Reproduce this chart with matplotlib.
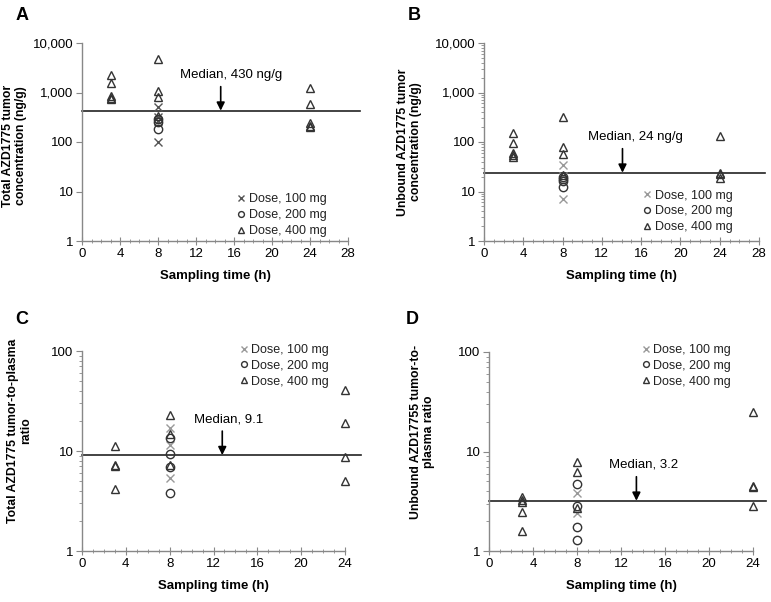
import matplotlib
matplotlib.use("Agg")
import matplotlib.pyplot as plt
import matplotlib.ticker as mticker
import numpy as np

plt.rcParams['font.family'] = ['Liberation Sans', 'DejaVu Sans']

# ---------------- data ----------------
# Panel A: total tumor concentration (ng/g)
a_t100 = [8, 8, 8, 8]
a_v100 = [500, 320, 270, 100]
a_t200 = [8, 8, 8]
a_v200 = [290, 255, 180]
a_t400 = [3, 3, 3, 3, 3, 8, 8, 8, 8, 24, 24, 24, 24, 24]
a_v400 = [2250, 1580, 840, 790, 750, 4700, 1090, 800, 330, 1250, 580, 240, 215, 200]
a_median = 430

# Panel B: unbound tumor concentration (ng/g)
b_t100 = [8, 8, 8]
b_v100 = [35, 21, 7]
b_t200 = [8, 8, 8, 8]
b_v200 = [20, 18, 16.5, 12.5]
b_t400 = [3, 3, 3, 3, 3, 8, 8, 8, 8, 24, 24, 24, 24]
b_v400 = [155, 94, 61, 54, 50, 320, 78, 56, 22, 130, 24, 22.5, 19]
b_median = 24

# Panel C: total tumor-to-plasma ratio
c_t100 = [8, 8, 8]
c_v100 = [17.1, 11.5, 5.4]
c_t200 = [8, 8, 8, 8]
c_v200 = [13.5, 9.3, 6.9, 3.8]
c_t400 = [3, 3, 3, 3, 8, 8, 8, 24, 24, 24, 24]
c_v400 = [11.3, 7.2, 7.0, 4.2, 22.7, 14.8, 7.2, 40.7, 18.9, 8.8, 5.0]
c_median = 9.1

# Panel D: unbound tumor-to-plasma ratio
d_t100 = [8, 8]
d_v100 = [3.8, 2.4]
d_t200 = [8, 8, 8, 8]
d_v200 = [4.7, 2.85, 1.74, 1.29]
d_t400 = [3, 3, 3, 3, 3, 8, 8, 8, 24, 24, 24, 24]
d_v400 = [3.45, 3.25, 3.1, 2.45, 1.6, 7.8, 6.2, 2.7, 25, 4.5, 4.4, 2.85]
d_median = 3.2

labels = ['Dose, 100 mg', 'Dose, 200 mg', 'Dose, 400 mg']

W, H = 771, 602
fig = plt.figure(figsize=(W / 100, H / 100), dpi=100)


def frac(l, t, r, b):
    return [l / W, 1 - b / H, (r - l) / W, (b - t) / H]


axA = fig.add_axes(frac(82, 43, 348, 241))
axB = fig.add_axes(frac(484, 43, 759, 241))
axC = fig.add_axes(frac(82, 351, 345, 551))
axD = fig.add_axes(frac(489, 352, 753, 551))

spine_col = '#888888'
mk_col = '#333333'
TICK_FS = 9.5


def style(ax, xmax, ymin, ymax, ylab, label_off, label_y, minor_y):
    ax.set_yscale('log')
    ax.set_xlim(0, xmax)
    ax.set_ylim(ymin, ymax)
    for s in ['top', 'right']:
        ax.spines[s].set_visible(False)
    for s in ['left', 'bottom']:
        ax.spines[s].set_color(spine_col)
        ax.spines[s].set_linewidth(1.0)
    ax.xaxis.set_major_locator(mticker.MultipleLocator(4))
    ax.xaxis.set_minor_locator(mticker.MultipleLocator(1))
    ax.tick_params(axis='x', which='major', direction='inout', length=6, color=spine_col,
                   labelsize=TICK_FS, pad=2)
    ax.tick_params(axis='x', which='minor', direction='inout', length=3, color=spine_col)
    ax.yaxis.set_major_locator(mticker.LogLocator(base=10, numticks=10))
    if minor_y:
        ax.yaxis.set_minor_locator(mticker.LogLocator(base=10, subs=np.arange(2, 10), numticks=10))
    else:
        ax.yaxis.set_minor_locator(mticker.NullLocator())
    ax.yaxis.set_minor_formatter(mticker.NullFormatter())
    ax.yaxis.set_major_formatter(mticker.FuncFormatter(lambda v, p: f'{int(round(v)):,}'))
    ax.tick_params(axis='y', which='major', direction='out', length=4, color=spine_col,
                   labelsize=TICK_FS, pad=2)
    ax.tick_params(axis='y', which='minor', direction='out', length=2, color=spine_col)
    ax.set_xlabel('Sampling time (h)', fontsize=9.5, fontweight='bold', labelpad=7)
    ax.set_ylabel(ylab, fontsize=8.8, fontweight='bold', linespacing=1.1)
    bb = ax.get_position()
    ax.yaxis.set_label_coords(-label_off / (bb.width * W), label_y)


def plot_points(ax, t1, v1, t2, v2, t4, v4, xcol):
    ax.plot(t1, v1, ls='none', marker='x', ms=6, mew=1.0, color=xcol, label=labels[0], clip_on=False)
    ax.plot(t2, v2, ls='none', marker='o', ms=6, mew=1.0, mfc='none', mec=mk_col, label=labels[1], clip_on=False)
    ax.plot(t4, v4, ls='none', marker='^', ms=6, mew=1.0, mfc='none', mec=mk_col, label=labels[2], clip_on=False)


def median(ax, val, tx, text, dx, xend=1.045):
    ax.plot([0, xend], [val, val], color='#222222', lw=1.2,
            transform=ax.get_yaxis_transform(), clip_on=False, zorder=1)
    # offsets in points (dpi 100 -> 1 px = 0.72 pt)
    ax.annotate('', xy=(tx, val), xytext=(0, 24 * 0.72), textcoords='offset points',
                arrowprops=dict(arrowstyle='-|>', color='black', lw=1.2, mutation_scale=12,
                                shrinkA=0, shrinkB=0))
    ax.annotate(text, xy=(tx, val), xytext=(dx * 0.72, 36 * 0.72), textcoords='offset points',
                fontsize=9.5, ha='center', va='center')


def legend(ax, anchor):
    leg = ax.legend(loc='upper left', bbox_to_anchor=anchor, frameon=False, fontsize=9,
                    handlelength=0.6, handletextpad=0.3, labelspacing=0.3, borderpad=0,
                    markerscale=0.7, borderaxespad=0)
    for txt in leg.get_texts():
        txt.set_color('#222222')


# Panel A
style(axA, 28, 1, 10000, 'Total AZD1775 tumor\nconcentration (ng/g)', 55, 0.48, False)
plot_points(axA, a_t100, a_v100, a_t200, a_v200, a_t400, a_v400, '#555555')
median(axA, a_median, 14.6, 'Median, 430 ng/g', 10)
legend(axA, (0.585, 0.24))

# Panel B
style(axB, 28, 1, 10000, 'Unbound AZD1775 tumor\nconcentration (ng/g)', 62, 0.5, True)
plot_points(axB, b_t100, b_v100, b_t200, b_v200, b_t400, b_v400, '#999999')
median(axB, b_median, 14.1, 'Median, 24 ng/g', 13, xend=1.02)
legend(axB, (0.58, 0.26))

# Panel C
style(axC, 24, 1, 100, 'Total AZD1775 tumor-to-plasma\nratio', 50, 0.6, True)
plot_points(axC, c_t100, c_v100, c_t200, c_v200, c_t400, c_v400, '#999999')
median(axC, c_median, 12.8, 'Median, 9.1', 6, xend=1.06)
legend(axC, (0.6, 1.035))

# Panel D
style(axD, 24, 1, 100, 'Unbound AZD17755 tumor-to-\nplasma ratio', 54, 0.6, True)
plot_points(axD, d_t100, d_v100, d_t200, d_v200, d_t400, d_v400, '#999999')
median(axD, d_median, 13.4, 'Median, 3.2', 7, xend=1.05)
legend(axD, (0.58, 1.04))

# Panel letters
for txt, x, y in [('A', 22, 15), ('B', 414, 15), ('C', 22, 320), ('D', 412, 320)]:
    fig.text(x / W, 1 - y / H, txt, fontsize=13, fontweight='bold', ha='center', va='center')

fig.savefig('out.png', dpi=100)
